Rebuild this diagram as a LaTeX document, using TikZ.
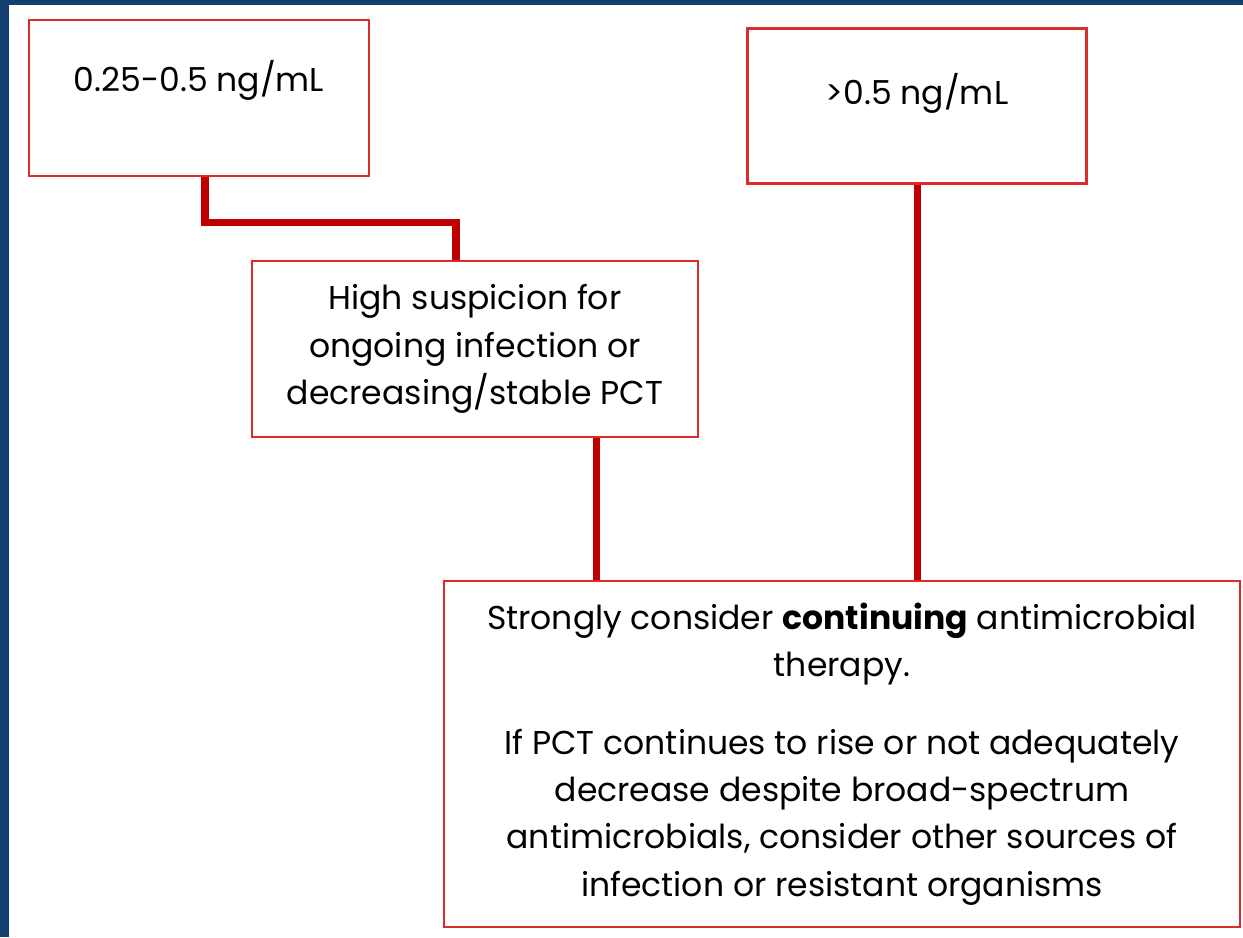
\documentclass[tikz,border=0pt]{standalone}
\usepackage{fontspec}
\setmainfont{Poppins}
\usetikzlibrary{positioning}
\definecolor{frameblue}{HTML}{123F6E}
\definecolor{linkred}{HTML}{C00000}
\definecolor{boxred}{HTML}{DC2B2B}
\tikzset{
  every node/.style={font=\fontsize{18.8}{27}\selectfont},
  box/.style={draw=boxred, line width=1.2pt, fill=white, align=center, inner sep=0pt},
  link/.style={draw=linkred, line width=4pt},
}

\begin{document}
\begin{tikzpicture}[x=0.02cm,y=-0.02cm]
  \fill[frameblue] (0,0) rectangle (1243,937);
  \fill[white] (9,5) rectangle (1243,937);
  \useasboundingbox (0,0) rectangle (1243,937);

  \node[box, minimum width=6.8cm, minimum height=3.12cm,
        label={[anchor=center,yshift=-1.22cm]north:0.25-0.5 ng/mL}] (low) at (199,98) {};
  \node[box, minimum width=6.78cm, minimum height=3.1cm,
        label={[anchor=center,yshift=-1.32cm]north:>0.5 ng/mL}] (high) at (917,106) {};
  \node[box, minimum width=8.92cm, minimum height=3.52cm] (susp) at (475,349)
    {High suspicion for\\ongoing infection or\\decreasing/stable PCT};
  \node[box, minimum width=15.92cm, minimum height=6.92cm] (cont) at (842,754)
    {Strongly consider \textbf{continuing} antimicrobial\\therapy.\\[17pt]
     If PCT continues to rise or not adequately\\decrease despite broad-spectrum\\
     antimicrobials, consider other sources of\\infection or resistant organisms};

  % connectors
  \draw[link] ([xshift=0.12cm]low.south) |- ++(0,45) -| ([xshift=-0.38cm]susp.north);
  \coordinate (cx) at ([xshift=2.44cm]susp.south);
  \draw[link] (cx) -- (cx |- cont.north);
  \draw[link] (high.south) -- (high.south |- cont.north);
\end{tikzpicture}
\end{document}
